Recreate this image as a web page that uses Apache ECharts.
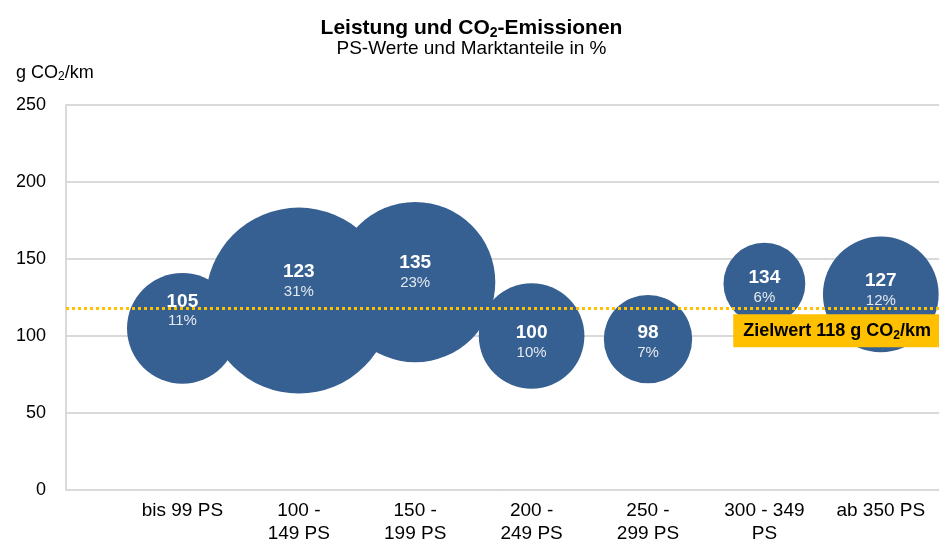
<!DOCTYPE html>
<html>
<head>
<meta charset="utf-8">
<script src="https://cdn.jsdelivr.net/npm/echarts@6/dist/echarts.min.js"></script>
<style>
  html, body { margin: 0; padding: 0; background: #fff; }
  #chart { width: 943px; height: 543px; }
</style>
</head>
<body>
<div id="chart"></div>
<script>
// PS-Klassen
const categories = ['bis 99 PS', '100 -\n149 PS', '150 -\n199 PS', '200 -\n249 PS', '250 -\n299 PS', '300 - 349\nPS', 'ab 350 PS']
// CO2-Emissionen in g/km
const emissions = [105, 123, 135, 100, 98, 134, 127]
// Marktanteile in %
const shares = [11, 31, 23, 10, 7, 6, 12]
// Zielwert
const targetValue = 118
const yTicks = [0, 50, 100, 150, 200, 250]

// vertikale Verschiebung der Beschriftungen in den Blasen
const labelShift = [-18, -20, -10, 6, 3, 3, -5]

const font = 'Liberation Sans, Arial, sans-serif'
const chart = echarts.init(document.getElementById('chart'))

const seriesData = emissions.map((v, i) => ({
  value: [i + 1, v, shares[i]],
  label: { offset: [0, labelShift[i]] }
}))

const option = {
  backgroundColor: '#fff',
  textStyle: { fontFamily: font },
  title: [
    {
      text: '{a|Leistung und CO}{s|2}{a|-Emissionen}',
      subtext: 'PS-Werte und Marktanteile in %',
      left: 'center',
      top: 12,
      itemGap: 0,
      textStyle: {
        rich: {
          a: { fontSize: 21, fontWeight: 'bold', color: '#000', fontFamily: font },
          s: { fontSize: 14, fontWeight: 'bold', color: '#000', fontFamily: font, padding: [9, 0, 0, 0] }
        }
      },
      subtextStyle: { fontSize: 19, color: '#000', fontFamily: font }
    },
    {
      text: '{a|g CO}{s|2}{a|/km}',
      left: 11,
      top: 58,
      textStyle: {
        rich: {
          a: { fontSize: 18, fontWeight: 'normal', color: '#000', fontFamily: font },
          s: { fontSize: 12, fontWeight: 'normal', color: '#000', fontFamily: font, padding: [8, 0, 0, 0] }
        }
      }
    }
  ],
  grid: { left: 66, right: 4, top: 105, bottom: 53, outerBoundsMode: 'none' },
  xAxis: {
    type: 'value',
    min: 0,
    max: 7.5,
    interval: 1,
    splitLine: { show: false },
    axisLine: { show: true, lineStyle: { color: '#d9d9d9', width: 1 } },
    axisTick: { show: false },
    axisLabel: {
      fontSize: 19,
      color: '#000',
      margin: 9,
      lineHeight: 23,
      showMaxLabel: false,
      formatter: v => (Number.isInteger(v) && v >= 1 && v <= 7 ? categories[v - 1] : '')
    }
  },
  yAxis: {
    type: 'value',
    min: yTicks[0],
    max: yTicks[yTicks.length - 1],
    interval: 50,
    axisLine: { show: true, lineStyle: { color: '#d9d9d9', width: 2 } },
    axisTick: { show: false },
    splitLine: { lineStyle: { color: '#d9d9d9', width: 2 } },
    axisLabel: { fontSize: 18, color: '#000', margin: 20 }
  },
  series: [
    {
      type: 'scatter',
      data: seriesData,
      symbolSize: d => 33.4 * Math.sqrt(d[2]),
      itemStyle: { color: '#376092', opacity: 1 },
      label: {
        show: true,
        position: 'inside',
        formatter: p => '{v|' + p.value[1] + '}\n{p|' + p.value[2] + '%}',
        rich: {
          v: { fontSize: 19, fontWeight: 'bold', color: '#fff', fontFamily: font, lineHeight: 22 },
          p: { fontSize: 15, color: '#e4e8ef', fontFamily: font, lineHeight: 18 }
        }
      },
      emphasis: { disabled: true },
      markLine: {
        silent: true,
        symbol: 'none',
        z: 10,
        lineStyle: { color: '#ffc000', type: [3, 3], width: 3 },
        label: {
          position: 'insideEndBottom',
          distance: [0, 6],
          backgroundColor: '#ffc000',
          padding: [7, 8, 6, 10],
          formatter: '{b|Zielwert ' + targetValue + ' g CO}{s|2}{b|/km}',
          rich: {
            b: { fontSize: 18, fontWeight: 'bold', color: '#000', fontFamily: font },
            s: { fontSize: 12, fontWeight: 'bold', color: '#000', fontFamily: font, padding: [8, 0, 0, 0] }
          }
        },
        data: [{ yAxis: targetValue }]
      }
    }
  ]
}

chart.setOption(option)
</script>
</body>
</html>
